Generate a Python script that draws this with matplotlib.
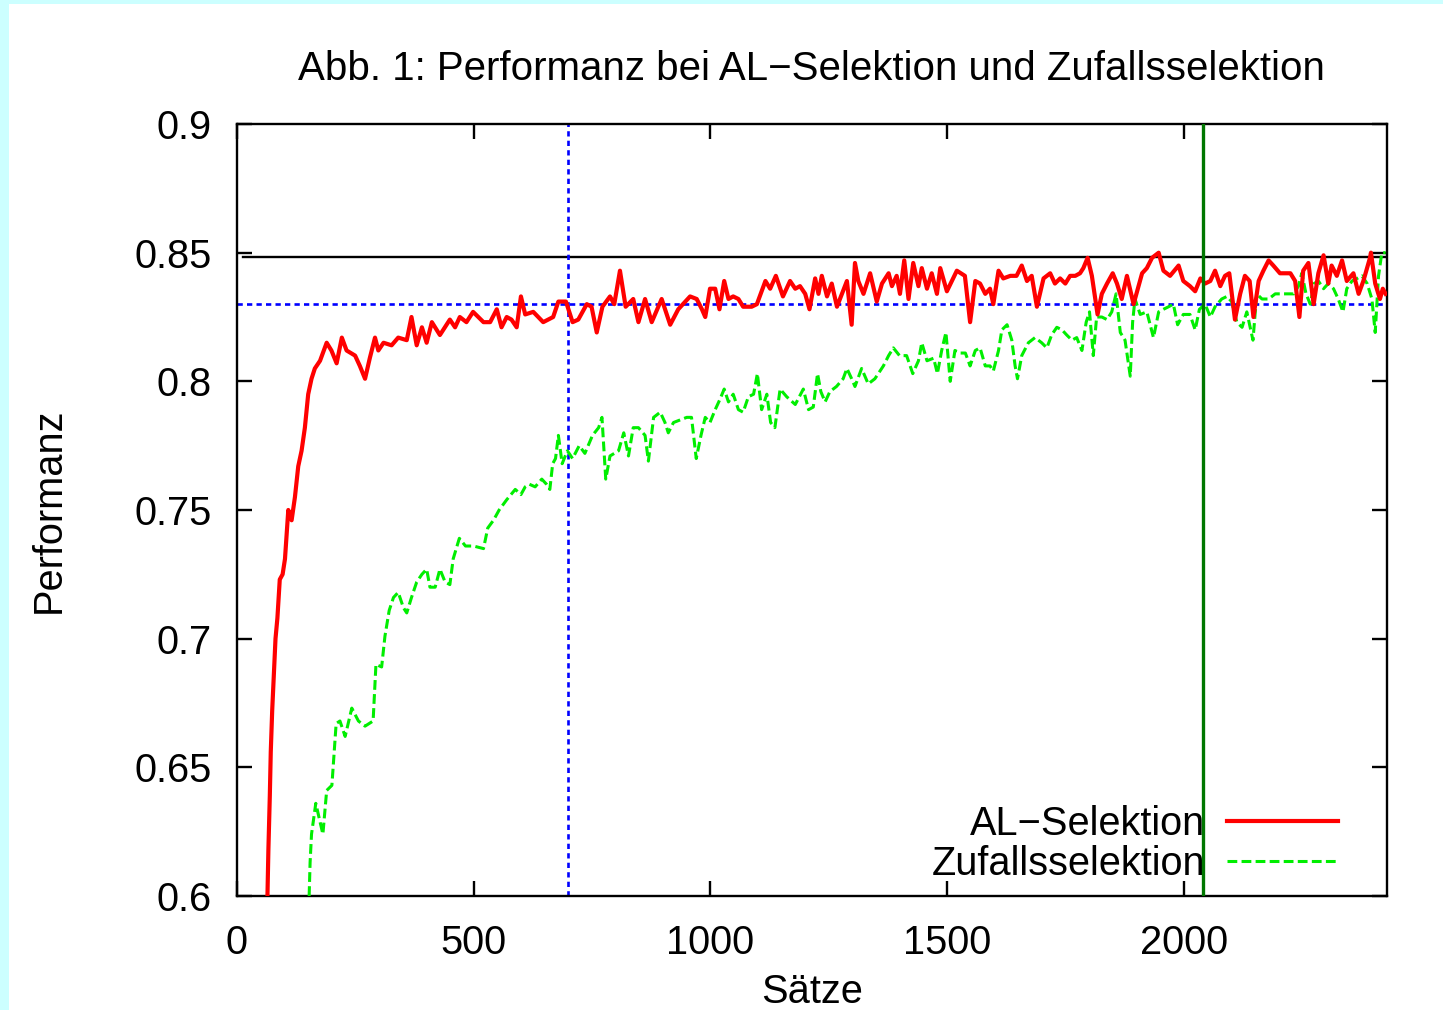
import matplotlib
matplotlib.use("Agg")
import matplotlib.pyplot as plt
from matplotlib.patches import Rectangle
from matplotlib.ticker import FormatStrFormatter

plt.rcParams["font.family"] = ["Liberation Sans", "DejaVu Sans"]

# ---------------- data ----------------
AL_X = [65, 67, 70, 72, 75, 79, 82, 86, 91, 97, 102, 109, 116, 123, 130, 137, 144, 151, 158,
        165, 176, 190, 200, 211, 222, 232, 250, 260, 271, 281, 292, 299, 310, 327, 341, 359,
        369, 380, 391, 401, 412, 429, 450, 461, 471, 485, 499, 521, 535, 549, 559, 570, 580,
        591, 600, 609, 626, 647, 668, 679, 695, 709, 721, 739, 749, 760, 772, 788, 797, 809,
        821, 837, 848, 862, 876, 897, 915, 932, 957, 971, 982, 989, 999, 1010, 1019, 1029,
        1038, 1048, 1059, 1069, 1087, 1098, 1116, 1126, 1138, 1153, 1168, 1179, 1189, 1200,
        1209, 1221, 1228, 1235, 1246, 1256, 1267, 1288, 1298, 1305, 1312, 1323, 1337, 1351,
        1362, 1376, 1383, 1393, 1400, 1409, 1418, 1428, 1439, 1446, 1457, 1467, 1478, 1485,
        1499, 1520, 1537, 1548, 1559, 1569, 1580, 1590, 1597, 1608, 1618, 1633, 1646, 1657,
        1668, 1678, 1689, 1703, 1717, 1727, 1738, 1749, 1759, 1770, 1780, 1787, 1796, 1805,
        1817, 1826, 1837, 1849, 1858, 1868, 1879, 1893, 1911, 1921, 1932, 1946, 1956, 1970,
        1988, 1998, 2012, 2023, 2034, 2044, 2055, 2065, 2076, 2086, 2095, 2107, 2118, 2128,
        2138, 2146, 2157, 2167, 2178, 2188, 2202, 2224, 2234, 2243, 2251, 2262, 2273, 2283,
        2294, 2304, 2311, 2322, 2333, 2343, 2357, 2368, 2378, 2392, 2394, 2403, 2413, 2419,
        2425]
AL_Y = [0.600, 0.618, 0.639, 0.656, 0.672, 0.688, 0.700, 0.708, 0.723, 0.725, 0.731, 0.750,
        0.746, 0.755, 0.767, 0.773, 0.782, 0.795, 0.801, 0.805, 0.808, 0.815, 0.812, 0.807,
        0.817, 0.812, 0.810, 0.806, 0.801, 0.809, 0.817, 0.812, 0.815, 0.814, 0.817, 0.816,
        0.825, 0.814, 0.821, 0.815, 0.823, 0.818, 0.824, 0.821, 0.825, 0.823, 0.827, 0.823,
        0.823, 0.828, 0.821, 0.825, 0.824, 0.821, 0.833, 0.826, 0.827, 0.823, 0.825, 0.831,
        0.831, 0.823, 0.824, 0.830, 0.829, 0.819, 0.829, 0.833, 0.830, 0.843, 0.829, 0.832,
        0.823, 0.832, 0.823, 0.832, 0.822, 0.828, 0.833, 0.832, 0.828, 0.825, 0.836, 0.836,
        0.828, 0.839, 0.832, 0.833, 0.832, 0.829, 0.829, 0.830, 0.839, 0.836, 0.841, 0.833,
        0.839, 0.836, 0.837, 0.834, 0.828, 0.840, 0.834, 0.841, 0.833, 0.838, 0.829, 0.839,
        0.822, 0.846, 0.839, 0.834, 0.842, 0.831, 0.838, 0.842, 0.837, 0.841, 0.834, 0.847,
        0.832, 0.846, 0.837, 0.844, 0.836, 0.842, 0.834, 0.844, 0.835, 0.843, 0.841, 0.823,
        0.839, 0.838, 0.834, 0.836, 0.830, 0.843, 0.840, 0.841, 0.841, 0.845, 0.839, 0.841,
        0.829, 0.840, 0.842, 0.838, 0.840, 0.838, 0.841, 0.841, 0.842, 0.844, 0.848, 0.841,
        0.826, 0.834, 0.838, 0.842, 0.838, 0.832, 0.841, 0.830, 0.842, 0.844, 0.848, 0.850,
        0.843, 0.841, 0.845, 0.839, 0.837, 0.835, 0.840, 0.838, 0.839, 0.843, 0.837, 0.841,
        0.842, 0.824, 0.834, 0.841, 0.839, 0.825, 0.839, 0.843, 0.847, 0.845, 0.842, 0.842,
        0.839, 0.825, 0.843, 0.846, 0.830, 0.842, 0.849, 0.838, 0.845, 0.841, 0.847, 0.839,
        0.842, 0.834, 0.839, 0.848, 0.850, 0.838, 0.832, 0.836, 0.834]

ZUF_X = [153, 155, 158, 167, 172, 182, 190, 201, 210, 218, 229, 243, 257, 271, 288, 294, 306,
         313, 322, 331, 341, 352, 359, 369, 380, 391, 401, 408, 419, 429, 440, 450, 457, 470,
         483, 500, 521, 530, 542, 554, 570, 588, 600, 609, 618, 630, 644, 654, 661, 667, 673,
         679, 687, 698, 709, 723, 735, 751, 764, 771, 779, 788, 806, 817, 827, 837, 848, 862,
         869, 880, 894, 904, 911, 922, 936, 950, 960, 970, 980, 989, 999, 1010, 1020, 1029,
         1038, 1048, 1059, 1069, 1080, 1091, 1099, 1108, 1119, 1127, 1136, 1147, 1161, 1179,
         1196, 1207, 1217, 1226, 1233, 1242, 1252, 1266, 1280, 1288, 1298, 1305, 1319, 1333,
         1347, 1365, 1376, 1386, 1399, 1414, 1427, 1439, 1446, 1457, 1471, 1479, 1488, 1497,
         1506, 1516, 1527, 1538, 1548, 1559, 1569, 1580, 1590, 1597, 1608, 1615, 1626, 1636,
         1643, 1648, 1657, 1671, 1685, 1699, 1710, 1720, 1731, 1742, 1752, 1763, 1773, 1784,
         1793, 1800, 1808, 1815, 1826, 1837, 1847, 1856, 1865, 1875, 1886, 1891, 1896, 1907,
         1921, 1935, 1946, 1956, 1967, 1977, 1986, 1998, 2012, 2023, 2032, 2044, 2055, 2065,
         2079, 2090, 2100, 2111, 2122, 2132, 2145, 2153, 2164, 2178, 2192, 2202, 2217, 2231,
         2241, 2248, 2257, 2266, 2274, 2283, 2294, 2304, 2315, 2325, 2335, 2343, 2354, 2365,
         2375, 2386, 2396, 2403, 2410, 2417, 2425]
ZUF_Y = [0.600, 0.613, 0.624, 0.636, 0.632, 0.624, 0.641, 0.643, 0.667, 0.668, 0.662, 0.673,
         0.668, 0.666, 0.668, 0.690, 0.689, 0.701, 0.711, 0.716, 0.718, 0.712, 0.710, 0.716,
         0.722, 0.725, 0.727, 0.720, 0.720, 0.727, 0.722, 0.721, 0.731, 0.739, 0.736, 0.736,
         0.735, 0.743, 0.746, 0.750, 0.754, 0.758, 0.756, 0.759, 0.760, 0.759, 0.762, 0.760,
         0.758, 0.768, 0.770, 0.779, 0.768, 0.773, 0.770, 0.775, 0.772, 0.779, 0.782, 0.786,
         0.762, 0.771, 0.773, 0.780, 0.771, 0.782, 0.782, 0.779, 0.769, 0.786, 0.788, 0.784,
         0.780, 0.784, 0.785, 0.786, 0.786, 0.770, 0.779, 0.786, 0.784, 0.789, 0.793, 0.797,
         0.792, 0.795, 0.789, 0.788, 0.794, 0.795, 0.803, 0.789, 0.795, 0.784, 0.782, 0.797,
         0.794, 0.791, 0.797, 0.789, 0.790, 0.803, 0.796, 0.792, 0.796, 0.798, 0.801, 0.805,
         0.801, 0.798, 0.805, 0.799, 0.801, 0.806, 0.810, 0.813, 0.810, 0.810, 0.803, 0.808,
         0.815, 0.808, 0.809, 0.803, 0.812, 0.819, 0.800, 0.812, 0.811, 0.811, 0.806, 0.812,
         0.813, 0.806, 0.806, 0.804, 0.812, 0.820, 0.822, 0.816, 0.806, 0.801, 0.810, 0.815,
         0.817, 0.815, 0.813, 0.818, 0.821, 0.820, 0.818, 0.816, 0.817, 0.812, 0.823, 0.827,
         0.810, 0.825, 0.825, 0.824, 0.827, 0.834, 0.819, 0.816, 0.802, 0.823, 0.832, 0.826,
         0.827, 0.817, 0.827, 0.828, 0.829, 0.830, 0.822, 0.826, 0.826, 0.820, 0.828, 0.830,
         0.825, 0.829, 0.832, 0.833, 0.831, 0.823, 0.821, 0.827, 0.816, 0.834, 0.832, 0.832,
         0.834, 0.834, 0.834, 0.834, 0.837, 0.842, 0.834, 0.830, 0.838, 0.839, 0.836, 0.838,
         0.836, 0.832, 0.827, 0.836, 0.839, 0.840, 0.841, 0.838, 0.832, 0.819, 0.841, 0.850,
         0.850]

BASELINE = 0.8485          # black reference line
BASELINE_START = 14
THRESH_Y = 0.83            # blue dotted horizontal
THRESH_X = 700             # blue dotted vertical
MARK_X = 2040              # dark green vertical
X_MAX = 2427

TITLE = "Abb. 1: Performanz bei AL\u2212Selektion und Zufallsselektion"
Y_TICKS = [0.6, 0.65, 0.7, 0.75, 0.8, 0.85, 0.9]
X_TICKS = [0, 500, 1000, 1500, 2000]

FS = 28.6

fig = plt.figure(figsize=(14.43, 10.10), dpi=100, facecolor="#ccffff")
# white page area (the reference has a light cyan strip on the left and top)
fig.patches.append(Rectangle((9 / 1443, 0), 1, 1 - 4 / 1010, transform=fig.transFigure,
                             facecolor="white", edgecolor="none", zorder=-10))

ax = fig.add_axes([0.164, 0.1129, 0.7969, 0.7643])
ax.set_facecolor("white")

ax.plot([BASELINE_START, X_MAX], [BASELINE, BASELINE], color="black", lw=1.7, zorder=2)
ax.axhline(THRESH_Y, color="#0000ff", lw=1.9, ls=(0, (2.0, 1.6)), zorder=2)
ax.axvline(THRESH_X, color="#0000ff", lw=1.9, ls=(0, (2.0, 1.6)), zorder=2)

ax.plot(AL_X, AL_Y, color="#ff0000", lw=3.0, label="AL\u2212Selektion", zorder=4)
ax.plot(ZUF_X, ZUF_Y, color="#00ee00", lw=2.2, ls=(0, (3.2, 1.4)),
        label="Zufallsselektion", zorder=3)

ax.axvline(MARK_X, color="#007700", lw=2.4, zorder=6)

ax.set_xlim(0, X_MAX)
ax.set_ylim(0.6, 0.9)
ax.set_xticks(X_TICKS)
ax.set_yticks(Y_TICKS)
ax.yaxis.set_major_formatter(FormatStrFormatter("%g"))
ax.tick_params(direction="in", length=11, width=1.7, labelsize=FS,
               top=True, right=True, pad=18)
ax.tick_params(axis="x", pad=20)
for s in ax.spines.values():
    s.set_linewidth(1.7)

ax.set_title(TITLE, fontsize=FS + 0.4, pad=32)
ax.set_xlabel("S\u00e4tze", fontsize=FS)
ax.set_ylabel("Performanz", fontsize=FS)
ax.xaxis.set_label_coords(0.5, -0.1)
ax.yaxis.set_label_coords(-0.147, 0.5)

ax.legend(loc="lower right", bbox_to_anchor=(0.972, -0.004), frameon=False, fontsize=FS,
          markerfirst=False, handlelength=2.8, handletextpad=0.55, labelspacing=0.05,
          borderpad=0.2, borderaxespad=0.2)

fig.savefig("out.png", dpi=100, facecolor=fig.get_facecolor())
